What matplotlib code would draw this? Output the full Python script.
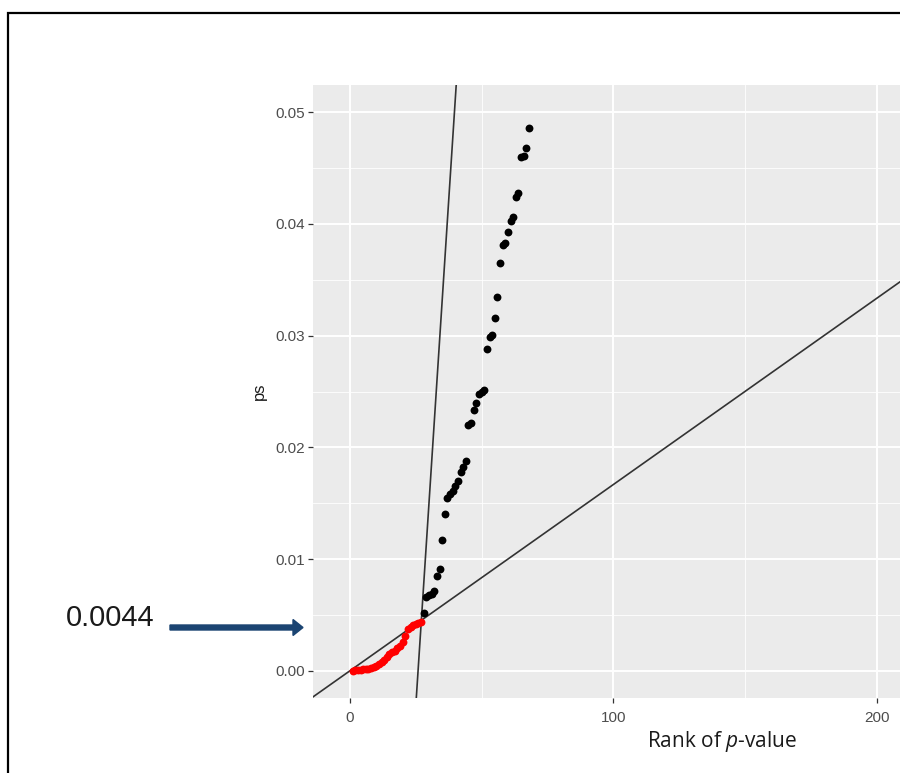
import numpy as np
import matplotlib
matplotlib.use("Agg")
from matplotlib import pyplot as plt
from matplotlib.patches import Rectangle, FancyArrow

plt.rcParams['mathtext.fontset'] = 'custom'
plt.rcParams['mathtext.rm'] = 'Open Sans'
plt.rcParams['mathtext.it'] = 'Open Sans:italic'

# sorted p-values
red_ps = [0.00002, 0.00005, 0.00008, 0.0001, 0.00012, 0.00015, 0.0002, 0.00025,
          0.0003, 0.0004, 0.0006, 0.0008, 0.0010, 0.0012, 0.0015, 0.0017, 0.0018,
          0.0020, 0.0022, 0.0026, 0.0031, 0.0037, 0.0039, 0.0041, 0.0042, 0.0043,
          0.0044]
black_ps = [0.0052, 0.0066, 0.0068, 0.0069, 0.0071, 0.0085, 0.0091, 0.0117, 0.0140,
            0.0155, 0.0158, 0.0161, 0.0165, 0.0170, 0.0178, 0.0182, 0.0188, 0.0220,
            0.0222, 0.0233, 0.0240, 0.0248, 0.0250, 0.0251, 0.0288, 0.0299, 0.0301,
            0.0316, 0.0335, 0.0365, 0.0381, 0.0383, 0.0393, 0.0403, 0.0406, 0.0424,
            0.0428, 0.0460, 0.0461, 0.0468, 0.0486]
red_rank = np.arange(1, len(red_ps) + 1)
black_rank = np.arange(len(red_ps) + 1, len(red_ps) + len(black_ps) + 1)

m_tests = 300
q_level = 0.05
steep_slope = 0.00362
steep_icpt = -0.0936
threshold_label = '0.0044'

x_ticks = [0, 100, 200]
y_ticks = [0.00, 0.01, 0.02, 0.03, 0.04, 0.05]

W, H = 900, 773
fig = plt.figure(figsize=(W / 100, H / 100), dpi=100)
ax = fig.add_axes([313 / W, 1 - 698 / H, (W - 313) / W, (698 - 85) / H])
ax.set_facecolor('#EBEBEB')
for s in ax.spines.values():
    s.set_visible(False)

ax.set_xlim(-14.05, 208.9)
ax.set_ylim(-0.00244, 0.05244)

ax.set_xticks(x_ticks)
ax.set_xticks([50, 150], minor=True)
ax.set_yticks(y_ticks)
ax.set_yticks([0.005, 0.015, 0.025, 0.035, 0.045], minor=True)
ax.set_xticklabels([str(v) for v in x_ticks])
ax.set_yticklabels(['%.2f' % v for v in y_ticks])
ax.grid(which='major', color='white', lw=1.4)
ax.grid(which='minor', color='white', lw=0.6)
ax.set_axisbelow(True)
ax.tick_params(which='major', length=3.4, width=0.9, color='#333333',
               labelsize=11, labelcolor='#4D4D4D', pad=2.5)
ax.tick_params(axis='x', which='major', pad=6)
ax.tick_params(which='minor', length=0)
for lab in ax.get_xticklabels() + ax.get_yticklabels():
    lab.set_family('Liberation Sans')

ax.axline((0, 0), slope=q_level / m_tests, color='#333333', lw=1.2, zorder=2)
ax.axline((0, steep_icpt), slope=steep_slope, color='#333333', lw=1.2, zorder=2)

ax.scatter(red_rank, red_ps, s=32, color='red', lw=0, zorder=3)
ax.scatter(black_rank, black_ps, s=32, color='black', lw=0, zorder=3)

ax.set_ylabel('ps', family='Liberation Sans', fontsize=12, color='#1a1a1a',
              labelpad=6)

fig.text(722 / W, 1 - 741 / H, r'Rank of $\it{p}$-value', fontsize=15,
         family='Open Sans', color='#1a1a1a', ha='center', va='center')

fig.text(110 / W, 1 - 618 / H, threshold_label, fontsize=21,
         family=['Liberation Sans Narrow', 'Liberation Sans'], color='#1a1a1a',
         ha='center', va='center')

arrow = FancyArrow(170 / W, 1 - 627.5 / H, (303 - 170) / W, 0, width=5 / H,
                   head_width=16 / H, head_length=10 / W, length_includes_head=True,
                   color='#1B4472', transform=fig.transFigure)
fig.add_artist(arrow)

frame = Rectangle((8 / W, -0.1), 1.2, 0.1 + 1 - 13 / H, fill=False,
                  edgecolor='black', lw=1.6, transform=fig.transFigure)
fig.add_artist(frame)

fig.savefig('out.png', dpi=100)
